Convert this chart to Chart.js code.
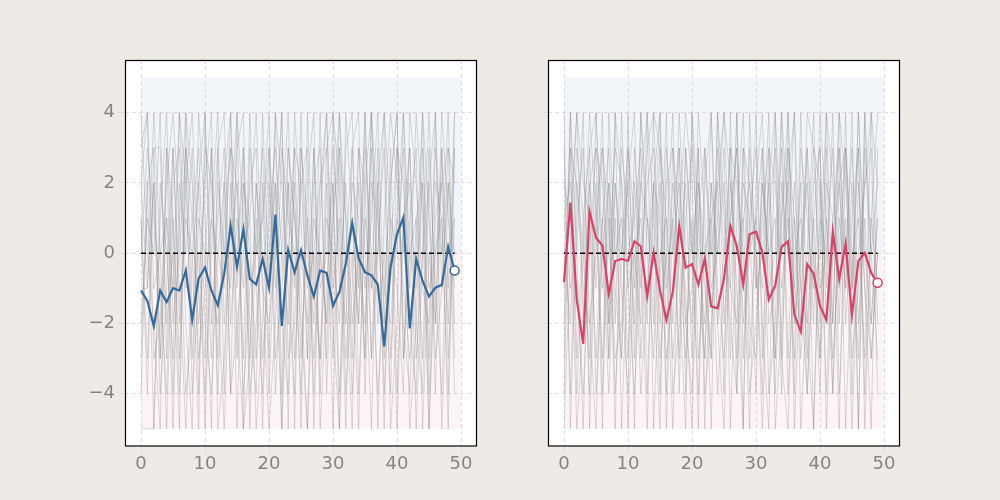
<!DOCTYPE html>
<html>
<head>
<meta charset="utf-8">
<script src="https://cdn.jsdelivr.net/npm/chart.js@4"></script>
<style>
html,body{margin:0;padding:0;background:#eeeae6;}
#wrap{position:relative;width:1000px;height:500px;}
canvas{position:absolute;top:0;}
</style>
</head>
<body>
<div id="wrap">
<canvas id="c1" width="500" height="500" style="left:0"></canvas>
<canvas id="c2" width="500" height="500" style="left:500px"></canvas>
</div>
<script>
const xTicks = [0, 10, 20, 30, 40, 50];
const yTicks = [-4, -2, 0, 2, 4];
const yTickLabels = ['\u22124', '\u22122', '0', '2', '4'];

const meanLeft = [-1.06,-1.36,-2.07,-1.06,-1.39,-0.99,-1.06,-0.49,-1.90,-0.72,
 -0.41,-1.06,-1.48,-0.58,0.77,-0.39,0.68,-0.73,-0.89,-0.16,
 -0.98,1.10,-2.07,0.09,-0.54,0.09,-0.63,-1.23,-0.49,-0.56,
 -1.49,-1.10,-0.30,0.85,-0.14,-0.54,-0.63,-0.89,-2.65,-0.39,
 0.54,1.02,-2.14,-0.16,-0.79,-1.23,-0.98,-0.90,0.18,-0.49];

const meanRight = [-0.82,1.44,-1.34,-2.58,1.18,0.44,0.22,-1.15,-0.22,-0.16,
 -0.22,0.34,0.20,-1.23,0.01,-1.06,-1.90,-1.10,0.77,-0.41,
 -0.31,-0.89,-0.16,-1.51,-1.57,-0.72,0.77,0.20,-0.89,0.54,
 0.61,0.02,-1.32,-0.92,0.18,0.34,-1.75,-2.23,-0.31,-0.58,
 -1.50,-1.90,0.61,-0.73,0.27,-1.75,-0.22,0.01,-0.56,-0.84];

const grayLeft = [
 [-3,2,-5,1,4,-2,0,3,-4,-1,2,4,-5,-3,1,0,3,-2,-4,4,-1,2,-5,0,3,-3,1,-4,2,4,-2,-5,0,3,-1,4,-3,2,-4,1,0,3,-5,-2,4,1,-3,-1,2,-4],
 [1,-4,3,3,-2,0,-5,4,2,-3,-1,1,4,-4,2,-2,-5,3,0,1,4,-3,-1,2,-5,3,0,-2,4,-4,1,3,-3,0,-5,2,4,-1,-2,3,-4,1,2,-5,0,4,-2,3,-3,1],
 [4,0,-2,-5,3,1,-3,2,4,-1,-4,0,3,-2,1,4,-5,-3,2,0,-1,4,-4,3,1,-2,-5,0,2,3,-3,4,1,-4,0,-2,3,-5,1,4,2,-1,-3,0,4,-4,2,1,-5,3],
 [-5,-5,-5,2,0,-3,4,-1,1,3,-2,-4,0,2,4,-1,3,-5,1,-3,0,2,-2,-4,4,1,-3,3,-1,0,2,-5,4,1,-2,3,0,-4,-1,2,4,-3,1,3,-5,0,-2,4,1,-1],
 [0,3,1,-1,-4,2,3,-2,-5,4,1,-3,2,0,-1,3,4,-4,-2,1,3,0,-5,2,-1,4,-3,1,0,-2,4,2,-4,-1,3,0,-5,2,4,-3,1,0,3,-2,-4,2,4,-5,0,1],
 [2,-1,4,0,1,-5,2,0,3,-4,3,2,-1,-5,0,2,-3,4,-1,-4,1,3,0,-2,2,-5,4,-1,-3,1,0,-2,3,4,-4,1,-1,0,3,-5,-2,4,0,1,-3,3,-1,-4,2,0],
 [-2,1,0,4,-3,3,-1,-5,0,2,4,-2,1,3,-4,-2,0,1,4,-1,-5,-2,3,1,0,-4,2,4,-5,-1,3,0,-2,2,1,-3,4,-2,0,-4,3,2,-1,4,1,-5,0,2,-2,3],
 [3,4,-3,-2,2,4,1,-4,-2,0,-3,3,-4,1,3,-5,2,0,-3,2,-4,1,4,-3,-2,2,3,-5,1,4,-1,1,-5,3,4,-4,2,1,-3,0,-1,-4,4,2,-1,-2,3,0,4,-3],
 [-4,2,3,-3,1,-1,4,2,-3,1,0,-5,3,4,-2,1,-1,2,3,-5,2,-1,1,4,-3,0,-2,3,-4,2,-5,3,1,-3,2,-1,1,4,-2,0,3,-2,-4,1,2,-3,4,-1,3,2],
 [1,-3,2,-4,-1,3,-2,1,0,-5,4,-1,-2,0,3,2,-4,-1,0,3,-3,4,2,-1,-4,3,1,-3,0,-2,1,4,-1,-5,3,2,-3,0,4,1,-5,1,3,-3,0,2,-4,3,-1,4],
 [-1,-1,2,-3,3,-4,1,4,-2,2,-5,1,0,-1,4,-3,2,1,-5,-2,3,-4,0,3,1,-1,-5,2,3,-3,2,-4,0,1,-2,4,-1,3,-5,2,4,-3,0,-1,2,-5,1,2,3,-2],
 [2,4,-1,0,-5,1,-4,3,1,-2,0,3,-3,2,-4,4,1,-3,2,-1,-2,0,4,-5,3,2,-1,0,-3,3,4,-1,2,-2,0,-3,4,1,-1,-2,1,4,-2,-4,3,-1,0,1,-4,4]
];

const grayRight = [
 [4,-5,1,3,-2,0,4,-3,2,-1,-4,3,0,-5,2,4,-1,1,-3,3,0,-4,2,4,-2,-5,1,3,-1,0,4,-3,2,-4,1,3,-5,0,2,-2,4,1,-3,0,3,-4,2,-1,-5,3],
 [-1,3,-4,0,4,1,-3,2,-5,3,1,-2,4,0,-3,2,-4,3,1,-1,-5,2,0,-3,4,1,-2,-4,3,2,-1,0,4,-5,-2,3,1,-3,0,4,-2,3,-4,1,-1,2,-5,4,0,-3],
 [2,1,-5,-2,3,4,0,-4,1,-3,3,-1,2,4,-5,0,1,-2,3,-4,4,-1,-3,2,0,3,-5,1,4,-2,-3,2,0,1,-4,4,-1,-2,3,0,-4,2,1,-5,3,-1,4,0,-2,1],
 [-3,4,0,-5,2,-1,3,1,-4,0,2,4,-3,1,-1,-5,3,0,2,-2,-1,3,-4,-2,1,4,2,-1,-5,3,0,-4,3,2,-1,1,-3,4,-2,-5,1,0,3,-2,4,-3,-1,2,3,-4],
 [0,-2,3,1,-4,2,-5,4,0,1,-3,2,-1,3,4,-2,0,-5,1,4,2,-3,0,1,-4,-1,3,2,0,-5,2,4,-2,-1,3,-4,0,1,-3,2,3,-5,0,4,-2,1,3,-4,1,-1],
 [1,2,-1,-4,0,3,2,-2,4,-5,0,1,3,-4,2,1,-3,-1,4,0,-2,4,1,-5,3,0,-1,4,-3,1,3,-2,-5,4,0,2,-4,3,1,-1,0,4,-2,3,-5,0,1,-3,4,2],
 [-5,0,4,2,1,-3,1,3,-2,4,-1,-4,0,2,3,-1,4,-4,-2,1,3,0,-2,4,-1,-3,2,0,1,-4,-2,1,3,-3,2,0,4,-5,-1,3,2,-1,4,-4,0,3,-2,1,-3,0],
 [3,-4,2,0,-3,4,-1,0,3,2,-5,0,1,-2,4,3,-2,2,0,-3,1,-5,3,0,2,-4,4,-3,2,1,-4,3,-1,0,4,-3,2,-1,-4,1,3,-2,0,2,-1,4,-5,3,0,2],
 [-2,4,-3,1,3,-4,0,2,-1,-3,4,-3,2,1,0,4,-5,1,3,-2,-4,1,3,-1,0,2,-3,4,-2,0,1,-1,2,4,-3,-5,1,-2,4,3,-1,0,-4,2,3,0,-3,4,-2,1],
 [1,-1,0,4,-5,1,3,-2,2,0,3,1,-4,-1,2,-3,0,4,-4,3,0,2,-1,-3,4,-2,1,3,-5,4,-1,2,0,-3,1,4,-2,0,3,-5,2,-4,1,3,0,-2,4,-1,-3,0],
 [-4,3,2,-1,-2,-5,1,-3,4,2,-1,0,-2,4,1,-4,2,3,-1,-5,4,1,-3,2,-2,0,3,-4,1,2,0,-5,1,3,-3,2,4,-1,-2,1,-3,4,2,-1,1,-5,0,2,4,-2],
 [0,1,4,-2,2,3,-4,1,-3,-2,2,-5,4,1,-2,3,1,-3,0,2,-3,3,-5,1,2,4,-1,-2,3,-3,1,3,-4,-2,4,1,-1,2,-4,0,-3,1,-2,4,2,-1,3,-5,1,4]
];

function pts(arr) { return arr.map((v, i) => ({x: i, y: v})); }

const gridColor = '#e4dad6';
const labelColor = '#858585';

const boxPlugin = {
  id: 'box',
  beforeDraw(chart) {
    const {ctx, chartArea: a} = chart;
    ctx.save();
    ctx.fillStyle = '#ffffff';
    ctx.fillRect(a.left, a.top, a.right - a.left, a.bottom - a.top);
    ctx.restore();
  },
  afterDraw(chart) {
    const {ctx, chartArea: a} = chart;
    ctx.save();
    ctx.strokeStyle = '#000000';
    ctx.lineWidth = 1.2;
    ctx.strokeRect(a.left + 0.5, a.top + 0.5, a.right - a.left - 1, a.bottom - a.top - 1);
    ctx.restore();
  }
};

function makeChart(id, gray, mean, color, showY, yWidth, padRight) {
  const datasets = [];
  datasets.push({data: [{x: 0, y: 5}, {x: 50, y: 5}], borderWidth: 0, borderColor: 'rgba(0,0,0,0)',
    backgroundColor: 'rgba(205,218,232,0.28)', fill: 'origin', pointRadius: 0, order: 100});
  datasets.push({data: [{x: 0, y: -5}, {x: 50, y: -5}], borderWidth: 0, borderColor: 'rgba(0,0,0,0)',
    backgroundColor: 'rgba(245,210,218,0.25)', fill: 'origin', pointRadius: 0, order: 100});
  gray.forEach(g => datasets.push({data: pts(g), borderColor: 'rgba(135,135,135,0.3)', borderWidth: 1,
    pointRadius: 0, fill: false, tension: 0, order: 50}));
  datasets.push({data: [{x: 0, y: 0}, {x: 49, y: 0}], borderColor: '#000000', borderWidth: 1.4,
    borderDash: [5, 3], pointRadius: 0, fill: false, order: 10});
  const radii = mean.map((v, i) => i === mean.length - 1 ? 4.5 : 0);
  datasets.push({data: pts(mean), borderColor: color, borderWidth: 2.2, pointRadius: radii,
    pointBackgroundColor: '#ffffff', pointBorderColor: color, pointBorderWidth: 1.5,
    fill: false, tension: 0, order: 1});

  return new Chart(document.getElementById(id), {
    type: 'line',
    data: {datasets},
    options: {
      responsive: false,
      animation: false,
      layout: {padding: {top: 60, right: padRight, left: 0, bottom: 0}},
      plugins: {legend: {display: false}, tooltip: {enabled: false}},
      scales: {
        x: {
          type: 'linear', min: -2.5, max: 52.5,
          afterBuildTicks: s => { s.ticks = xTicks.map(v => ({value: v})); },
          afterFit: s => { s.height = 53.5; },
          ticks: {color: labelColor, font: {family: 'DejaVu Sans', size: 18}, padding: 1,
            callback: v => String(v)},
          grid: {color: gridColor, tickColor: gridColor, tickLength: 6, drawTicks: true, lineWidth: 1},
          border: {display: false, dash: [4, 3]}
        },
        y: {
          type: 'linear', min: -5.5, max: 5.5,
          afterBuildTicks: s => { s.ticks = yTicks.map(v => ({value: v})); },
          afterFit: s => { s.width = yWidth; },
          ticks: {display: showY, color: labelColor, font: {family: 'DejaVu Sans', size: 18}, padding: 4,
            callback: v => yTickLabels[yTicks.indexOf(v)]},
          grid: {color: gridColor, tickColor: gridColor, tickLength: 6, drawTicks: true, lineWidth: 1},
          border: {display: false, dash: [4, 3]}
        }
      }
    },
    plugins: [boxPlugin]
  });
}

makeChart('c1', grayLeft, meanLeft, '#356a9c', true, 125, 23);
makeChart('c2', grayRight, meanRight, '#dc4168', false, 48, 100);
</script>
</body>
</html>
